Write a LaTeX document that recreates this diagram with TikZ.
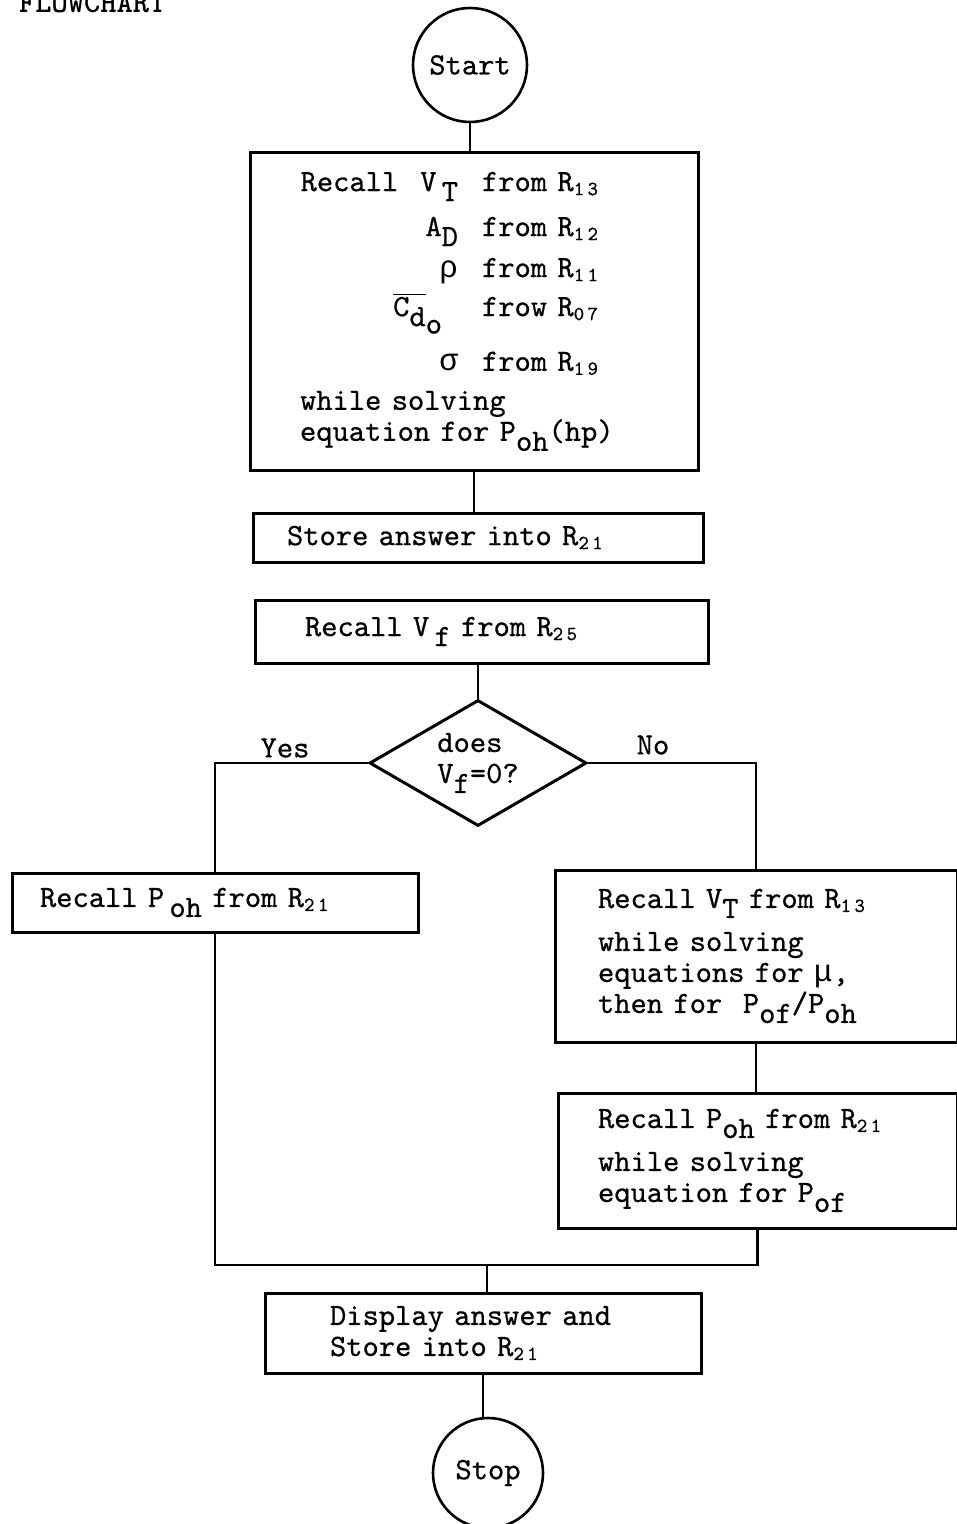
\documentclass[tikz,border=0pt]{standalone}
\usepackage{fontspec}
\usepackage{tikz}
\usetikzlibrary{shapes.geometric}
\newfontfamily\typewriter{lmmono10-regular.otf}[FakeBold=0.6]
\newfontfamily\titlefont{lmmonolt10-bold.otf}
\newfontfamily\greek{Liberation Mono}
\newcommand{\dn}[1]{\raisebox{-0.75ex}{#1}}
\newcommand{\lo}[1]{\raisebox{-0.3ex}{\fontsize{10}{10}\selectfont #1}}

\begin{document}
\begin{tikzpicture}[x=0.5pt,y=-0.5pt]
        \tikzstyle{every node}+=[font=\typewriter\fontsize{15.5}{15.5}\selectfont]
        \tikzstyle{box}=[draw, line width=1.5pt, rectangle, align=left, inner ysep=0pt]
        \tikzstyle{term}=[draw, line width=1.3pt, circle, inner sep=0pt]
        \tikzstyle{link}=[line width=1.4pt]
        \useasboundingbox (0,0) rectangle (957,1524);
        \node [anchor=base west, font=\titlefont\fontsize{15.5}{15.5}\selectfont] (title) at (12,13) {FLOWCHART};
        \node [term, minimum size=57pt] (start) at (470,65) {Start};
        \node [box, minimum height=158.5pt, inner xsep=25pt, text width=174pt] (recall1) at (474,311.5) {%
          \makebox[79pt][r]{Recall\hspace{11pt}V\,\dn{T}}\hspace{12pt}from R\lo{1\,3}\\[7pt]
          \makebox[79pt][r]{A\dn{D}}\hspace{12pt}from R\lo{1\,2}\\[5pt]
          \makebox[79pt][r]{\greek ρ}\hspace{12pt}from R\lo{1\,1}\\[4pt]
          \makebox[79pt][r]{$\overline{\mbox{C\dn{d}}}$\raisebox{-1.3ex}{o}\hspace{8pt}}\hspace{12pt}frow R\lo{0\,7}\\[8pt]
          \makebox[79pt][r]{\greek σ}\hspace{12pt}from R\lo{1\,9}\\[4pt]
          while solving\\
          equation for P\dn{oh}(hp)};
        \node [box, minimum height=24.5pt, inner xsep=17pt, text width=191pt] (store1) at (478,537.5) {Store answer into R\lo{2\,1}};
        \node [box, minimum height=31.5pt, inner xsep=25pt, text width=176.5pt] (recallvf) at (481.5,631.5) {Recall V\,\dn{f} from R\lo{2\,5}};
        \node [draw, line width=1.5pt, diamond, aspect=1.72, inner sep=0pt, minimum width=108.5pt, minimum height=63pt, align=left] (test) at (478,763) {does\\V\dn{f}=0?};
        \node (yes) at (285,748) {Yes};
        \node (no) at (653,745) {No};
        \node [box, minimum height=29.5pt, inner xsep=14pt, text width=175pt] (recallpoh) at (215,902.5) {Recall P\,\dn{oh} from R\lo{2\,1}};
        \node [box, minimum height=86pt, inner xsep=21.5pt, text width=158pt] (recallvt) at (756,956) {%
          Recall V\dn{T} from R\lo{1\,3}\\[6pt]
          while solving\\
          equations for {\greek μ},\\
          then for~ P\dn{of}/P\dn{oh}};
        \node [box, minimum height=67.5pt, inner xsep=20pt, text width=159.5pt] (recallpoh2) at (757.5,1160.5) {%
          Recall P\dn{oh} from R\lo{2\,1}\\[6pt]
          while solving\\
          equation for P\dn{of}};
        \node [box, minimum height=40pt, inner xsep=32.5pt, text width=153pt] (display) at (483,1333) {%
          Display answer and\\
          Store into R\lo{2\,1}};
        \node [term, minimum size=55pt] (stop) at (488,1473) {Stop};
        \coordinate (merge) at (487,1265);
        \draw [link] (start.south) -- (start.south |- recall1.north);
        \draw [link] (recall1.south) -- (recall1.south |- store1.north);
        \draw [link] (test.north) -- (test.north |- recallvf.south);
        \draw [link] (test.west) -| (recallpoh.north);
        \draw [link] (test.east) -| (recallvt.north);
        \draw [link] (recallvt.south) -- (recallvt.south |- recallpoh2.north);
        \draw [link] (recallpoh.south) |- (merge) -| (recallpoh2.south);
        \draw [link] (merge) -- (merge |- display.north);
        \draw [link] (display.south) -- (display.south |- stop.north);
\end{tikzpicture}
\end{document}
